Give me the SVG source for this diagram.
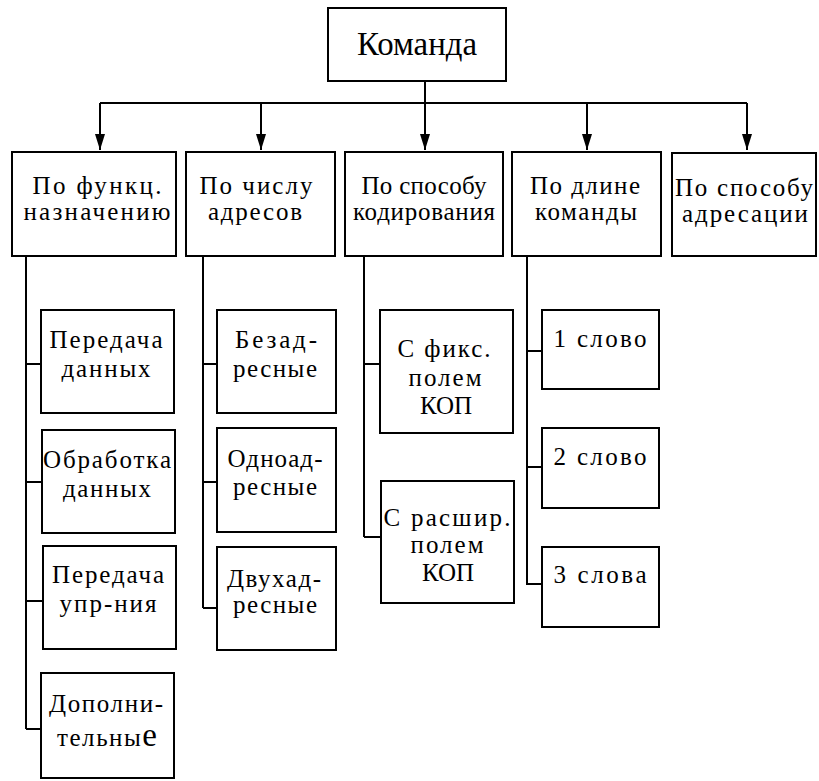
<svg xmlns="http://www.w3.org/2000/svg" width="819" height="781" viewBox="0 0 819 781">
  <style>
    .box { fill: #fff; stroke: #000; stroke-width: 2; }
    .wire { fill: none; stroke: #000; stroke-width: 2; }
    text { font-family: "Liberation Serif", "Times New Roman", serif; fill: #000; text-anchor: middle; }
    .t1 { font-size: 34px; }
    .t2 { font-size: 25px; }
    .t3 { font-size: 25px; }
  </style>
  <defs>
    <marker id="arrow" markerUnits="userSpaceOnUse" viewBox="0 0 16 10" markerWidth="16" markerHeight="10" refX="16" refY="5" orient="auto">
      <path d="M0,0 L16,5 L0,10 z" fill="#000"/>
    </marker>
  </defs>

  <!-- connectors -->
  <g id="connectors">
    <path class="wire" d="M425,81 V103 M100,103 H747"/>
    <path class="wire" d="M100,103 V150" marker-end="url(#arrow)"/>
    <path class="wire" d="M261,103 V150" marker-end="url(#arrow)"/>
    <path class="wire" d="M425,103 V150" marker-end="url(#arrow)"/>
    <path class="wire" d="M587,103 V150" marker-end="url(#arrow)"/>
    <path class="wire" d="M747,103 V150" marker-end="url(#arrow)"/>
    <!-- column trunks and branches -->
    <path class="wire" d="M26,256 V729 M26,364 H41 M26,482 H42 M26,601 H43 M26,729 H41"/>
    <path class="wire" d="M203,256 V608 M203,364 H217 M203,482 H217 M203,608 H217"/>
    <path class="wire" d="M364,256 V537 M364,364 H380 M364,537 H381"/>
    <path class="wire" d="M527,256 V585 M527,351 H542 M527,467 H542 M527,584 H542"/>
  </g>

  <g id="nodes" font-family="Liberation Serif, Times New Roman, serif">
  <!-- root -->
  <g id="root">
    <rect class="box" x="328" y="8" width="178" height="73"/>
    <text class="t1" x="417" y="55" textLength="120" lengthAdjust="spacingAndGlyphs">Команда</text>
  </g>

  <!-- categories -->
  <g id="cat-func">
    <rect class="box" x="12" y="152" width="164" height="104"/>
    <text class="t2" x="97" y="194" textLength="129" lengthAdjust="spacing">По функц.</text>
    <text class="t2" x="97" y="220" textLength="147" lengthAdjust="spacing">назначению</text>
  </g>
  <g id="cat-addr-count">
    <rect class="box" x="186" y="152" width="149" height="104"/>
    <text class="t2" x="256" y="194" textLength="113" lengthAdjust="spacing">По числу</text>
    <text class="t2" x="255" y="220" textLength="94" lengthAdjust="spacing">адресов</text>
  </g>
  <g id="cat-coding">
    <rect class="box" x="345" y="152" width="158" height="104"/>
    <text class="t2" x="424" y="194" textLength="125" lengthAdjust="spacing">По способу</text>
    <text class="t2" x="424" y="220" textLength="142" lengthAdjust="spacing">кодирования</text>
  </g>
  <g id="cat-length">
    <rect class="box" x="512" y="152" width="149" height="104"/>
    <text class="t2" x="585" y="194" textLength="110" lengthAdjust="spacing">По длине</text>
    <text class="t2" x="586" y="220" textLength="102" lengthAdjust="spacing">команды</text>
  </g>
  <g id="cat-addressing">
    <rect class="box" x="672" y="153" width="144" height="103"/>
    <text class="t2" x="744" y="196" textLength="138" lengthAdjust="spacing">По способу</text>
    <text class="t2" x="745" y="222" textLength="126" lengthAdjust="spacing">адресации</text>
  </g>

  <!-- by function -->
  <g id="func-transfer">
    <rect class="box" x="41" y="310" width="133" height="103"/>
    <text class="t3" x="106" y="348" textLength="113" lengthAdjust="spacing">Передача</text>
    <text class="t3" x="106" y="377" textLength="89" lengthAdjust="spacing">данных</text>
  </g>
  <g id="func-process">
    <rect class="box" x="42" y="430" width="133" height="103"/>
    <text class="t3" x="107" y="468" textLength="128" lengthAdjust="spacing">Обработка</text>
    <text class="t3" x="107" y="497" textLength="88" lengthAdjust="spacing">данных</text>
  </g>
  <g id="func-control">
    <rect class="box" x="43" y="546" width="133" height="103"/>
    <text class="t3" x="108" y="583" textLength="112" lengthAdjust="spacing">Передача</text>
    <text class="t3" x="108" y="612" textLength="97" lengthAdjust="spacing">упр-ния</text>
  </g>
  <g id="func-extra">
    <rect class="box" x="41" y="673" width="133" height="105"/>
    <text class="t3" x="106" y="712" textLength="114" lengthAdjust="spacing">Дополни-</text>
    <text class="t3" x="107" y="746" textLength="100" lengthAdjust="spacing">тельны<tspan font-size="33">е</tspan></text>
  </g>

  <!-- by address count -->
  <g id="addr-zero">
    <rect class="box" x="217" y="310" width="119" height="103"/>
    <text class="t3" x="276" y="348" textLength="82" lengthAdjust="spacing">Безад-</text>
    <text class="t3" x="275" y="377" textLength="84" lengthAdjust="spacing">ресные</text>
  </g>
  <g id="addr-one">
    <rect class="box" x="217" y="428" width="119" height="104"/>
    <text class="t3" x="275" y="467" textLength="95" lengthAdjust="spacing">Одноад-</text>
    <text class="t3" x="275" y="495" textLength="84" lengthAdjust="spacing">ресные</text>
  </g>
  <g id="addr-two">
    <rect class="box" x="217" y="547" width="119" height="103"/>
    <text class="t3" x="274" y="587" textLength="94" lengthAdjust="spacing">Двухад-</text>
    <text class="t3" x="275" y="613" textLength="84" lengthAdjust="spacing">ресные</text>
  </g>

  <!-- by coding -->
  <g id="code-fixed">
    <rect class="box" x="380" y="310" width="133" height="123"/>
    <text class="t3" x="444" y="357" textLength="93" lengthAdjust="spacing">С фикс.</text>
    <text class="t3" x="445" y="386" textLength="73" lengthAdjust="spacing">полем</text>
    <text class="t3" x="446" y="414">КОП</text>
  </g>
  <g id="code-extended">
    <rect class="box" x="381" y="481" width="133" height="122"/>
    <text class="t3" x="447" y="526" textLength="127" lengthAdjust="spacing">С расшир.</text>
    <text class="t3" x="447" y="553" textLength="73" lengthAdjust="spacing">полем</text>
    <text class="t3" x="448" y="581">КОП</text>
  </g>

  <!-- by length -->
  <g id="len-1">
    <rect class="box" x="542" y="310" width="117" height="79"/>
    <text class="t3" x="600" y="347" textLength="93" lengthAdjust="spacing">1 слово</text>
  </g>
  <g id="len-2">
    <rect class="box" x="542" y="428" width="117" height="80"/>
    <text class="t3" x="600" y="465" textLength="93" lengthAdjust="spacing">2 слово</text>
  </g>
  <g id="len-3">
    <rect class="box" x="542" y="547" width="117" height="80"/>
    <text class="t3" x="600" y="583" textLength="93" lengthAdjust="spacing">3 слова</text>
  </g>
  </g>
</svg>
